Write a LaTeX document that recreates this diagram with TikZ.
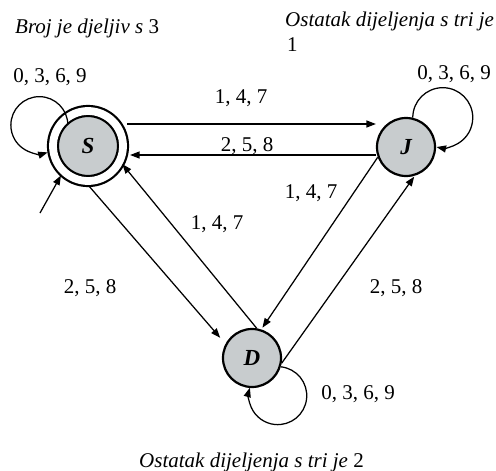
\documentclass[tikz,border=0pt]{standalone}
\usepackage{fontspec}
\setmainfont{Liberation Serif}
\usetikzlibrary{arrows.meta}
\definecolor{colState}{RGB}{200,204,206}

\begin{document}
\begin{tikzpicture}[x=1pt,y=-1pt,
    every node/.style={font=\fontsize{21}{25}\selectfont, inner sep=0pt},
    state/.style={draw, circle, line width=2.2pt, fill=colState, minimum size=58pt, font=\fontsize{23}{27}\selectfont\bfseries\itshape},
    final/.style={state, minimum size=70pt, double, double distance=7.8pt},
    edge/.style={line width=1.25pt, -{Triangle[length=9.5pt,width=7pt]}},
    lbl/.style={anchor=base},
    caption/.style={anchor=base west}
]
    \useasboundingbox (0,0) rectangle (496,471);

    % states
    \node[final] (S) at (88,146) {S};
    \node[state] (J) at (406,147) {J};
    \node[state] (D) at (252,358) {D};

    % start arrow
    \coordinate (init) at (40,213);
    \draw[edge, shorten >=4pt] (init) -- (S.226);

    % self loops
    \draw[edge] ([shift={(134:29pt)}]S.center) arc[start angle=0, end angle=287, radius=28.5pt];
    \draw[edge] (J.77) arc[start angle=180, end angle=-102, radius=30pt];
    \draw[edge] (D.-17) arc[start angle=84, end angle=-196, radius=29pt];

    % transitions
    \draw[edge] ([shift={(3pt,22pt)}]S.east) -- ([yshift=23pt]J.west);
    \draw[edge] ([yshift=-8pt]J.west) -- ([shift={(6pt,-9pt)}]S.east);
    \draw[edge, shorten <=5pt, shorten >=8pt] (S.266) -- (D.152);
    \draw[edge, shorten >=3pt] (D.81) -- (S.-26);
    \draw[edge, shorten >=2pt] (J.200) -- (D.72);
    \draw[edge, shorten >=1pt] (D.-10) -- (J.-73);

    % transition labels
    \node[lbl] (lSJ) at (241,103) {1, 4, 7};
    \node[lbl] (lJS) at (247,151) {2, 5, 8};
    \node[lbl] (lJD) at (311,198) {1, 4, 7};
    \node[lbl] (lDS) at (217,229) {1, 4, 7};
    \node[lbl] (lSD) at (90,293) {2, 5, 8};
    \node[lbl] (lDJ) at (396,293) {2, 5, 8};
    \node[lbl] (lSS) at (50,82) {0, 3, 6, 9};
    \node[lbl] (lJJ) at (454,79) {0, 3, 6, 9};
    \node[lbl] (lDD) at (358,399) {0, 3, 6, 9};

    % meaning of each state
    \node[caption] (tS) at (15,33) {\textit{Broj je djeljiv s} 3};
    \node[caption] (tJa) at (285,27) {\textit{Ostatak dijeljenja s tri je}};
    \node[caption] (tJb) at (287,52) {1};
    \node[caption] (tD) at (139,467) {\textit{Ostatak dijeljenja s tri je} 2};
\end{tikzpicture}
\end{document}
